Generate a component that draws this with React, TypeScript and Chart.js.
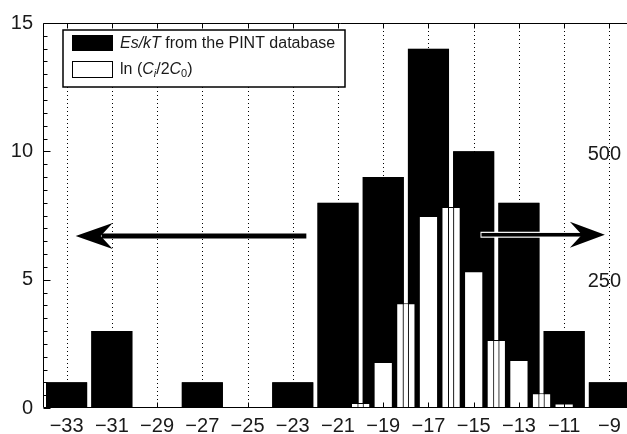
import React, { useEffect, useRef } from 'react';
import { Chart, registerables } from 'chart.js';

Chart.register(...registerables);

// ---- data ----
const xTickValues = [-33, -31, -29, -27, -25, -23, -21, -19, -17, -15, -13, -11, -9];
const esCenters = [-33, -31, -29, -27, -25, -23, -21, -19, -17, -15, -13, -11, -9];
const esValues = [1, 3, 0, 1, 0, 1, 8, 9, 14, 10, 8, 3, 1];
const lnCenters = [-20, -19, -18, -17, -16, -15, -14, -13, -12, -11];
const lnCounts = [10, 91, 207, 379, 397, 270, 134, 95, 29, 9];
const leftTickValues = [0, 5, 10, 15];
const rightTickValues = [250, 500];
// arrows: [shaft start x, tip x, y]
const leftArrow = [-22.4, -32.6, 6.7];
const rightArrow = [-14.7, -9.2, 6.75];

const legendEs = [
  { t: 'Es/kT', i: true },
  { t: ' from the PINT database' },
];
const legendLn = [
  { t: 'ln (' },
  { t: 'C', i: true },
  { t: 'i', i: true, sub: true },
  { t: '/2' },
  { t: 'C', i: true },
  { t: '0', sub: true },
  { t: ')' },
];

const FAMILY = '"Liberation Sans", Arial, Helvetica, sans-serif';
const TXT = '#1a1a1a';

const fmtMinus = (v: number) => (v < 0 ? '\u2212' + Math.abs(v) : String(v));

function drawRich(ctx: CanvasRenderingContext2D, segs: any[], x: number, y: number) {
  let cx = x;
  for (const s of segs) {
    const size = s.sub ? 11 : 16;
    ctx.font = `${s.i ? 'italic ' : ''}${size}px ${FAMILY}`;
    ctx.fillText(s.t, cx, s.sub ? y + 4 : y);
    cx += ctx.measureText(s.t).width;
  }
}

function arrowHead(ctx: CanvasRenderingContext2D, tipX: number, y: number, dir: number, len: number, half: number, notch: number) {
  ctx.beginPath();
  ctx.moveTo(tipX, y);
  ctx.lineTo(tipX - dir * len, y - half);
  ctx.lineTo(tipX - dir * notch, y);
  ctx.lineTo(tipX - dir * len, y + half);
  ctx.closePath();
  ctx.fill();
}

const decorPlugin = {
  id: 'decor',
  beforeDatasetsDraw(chart: any) {
    const { ctx, chartArea, scales } = chart;
    const { top, bottom } = chartArea;
    ctx.save();
    ctx.strokeStyle = '#000';
    ctx.lineWidth = 1;
    ctx.setLineDash([1, 3]);
    xTickValues.forEach((v) => {
      const px = Math.round(scales.x.getPixelForValue(v)) + 0.5;
      ctx.beginPath();
      ctx.moveTo(px, top);
      ctx.lineTo(px, bottom);
      ctx.stroke();
    });
    ctx.restore();
  },
  afterDatasetsDraw(chart: any) {
    const { ctx, chartArea, scales } = chart;
    const { left, right, top, bottom } = chartArea;
    const x = scales.x;
    const y = scales.y;
    ctx.save();
    // frame
    ctx.strokeStyle = '#000';
    ctx.lineWidth = 1;
    const L = Math.round(left) - 0.5;
    const T = Math.round(top) + 0.5;
    const B = Math.round(bottom) - 0.5;
    ctx.beginPath();
    ctx.moveTo(right + 5, T);
    ctx.lineTo(L, T);
    ctx.lineTo(L, B);
    ctx.lineTo(right + 5, B);
    ctx.stroke();
    // top / bottom ticks
    ctx.beginPath();
    xTickValues.forEach((v) => {
      const px = Math.round(x.getPixelForValue(v)) + 0.5;
      ctx.moveTo(px, T);
      ctx.lineTo(px, T + 5);
      ctx.moveTo(px, B);
      ctx.lineTo(px, B - 5);
    });
    // left ticks (minor every 0.5, major at labelled values)
    for (let k = 0; k <= 30; k++) {
      const v = k * 0.5;
      const py = Math.round(y.getPixelForValue(v)) + 0.5;
      const len = leftTickValues.includes(v) ? 7 : 4;
      ctx.moveTo(L, py);
      ctx.lineTo(L + len, py);
    }
    ctx.stroke();

    // left arrow
    ctx.fillStyle = '#000';
    ctx.strokeStyle = '#000';
    {
      const sx = x.getPixelForValue(leftArrow[0]);
      const tx = x.getPixelForValue(leftArrow[1]);
      const py = y.getPixelForValue(leftArrow[2]);
      ctx.lineWidth = 5;
      ctx.beginPath();
      ctx.moveTo(sx, py);
      ctx.lineTo(tx + 26, py);
      ctx.stroke();
      arrowHead(ctx, tx, py, -1, 37, 13, 25);
    }
    // right arrow (black core with white outline)
    {
      const sx = x.getPixelForValue(rightArrow[0]);
      const tx = x.getPixelForValue(rightArrow[1]);
      const py = y.getPixelForValue(rightArrow[2]);
      const ex = tx - 22;
      ctx.fillStyle = '#fff';
      ctx.fillRect(sx, py - 3, ex - sx, 6);
      ctx.fillStyle = '#000';
      ctx.fillRect(sx + 1, py - 1.8, ex - sx, 3.6);
      arrowHead(ctx, tx, py, 1, 35, 13, 23);
    }

    // legend
    const lx = left + 19;
    const ly = top + 7;
    ctx.fillStyle = '#fff';
    ctx.fillRect(lx, ly, 282, 57);
    ctx.lineWidth = 1.5;
    ctx.strokeStyle = '#000';
    ctx.strokeRect(lx, ly, 282, 57);
    ctx.fillStyle = '#000';
    ctx.fillRect(lx + 9, ly + 5, 41, 16);
    ctx.lineWidth = 1;
    ctx.strokeRect(Math.round(lx + 9) + 0.5, Math.round(ly + 31) + 0.5, 40, 16);
    ctx.fillStyle = TXT;
    ctx.textBaseline = 'middle';
    ctx.textAlign = 'left';
    drawRich(ctx, legendEs, lx + 57, ly + 14);
    drawRich(ctx, legendLn, lx + 57, ly + 40);
    ctx.restore();
  },
};

export default function App() {
  const ref = useRef<HTMLCanvasElement>(null);
  useEffect(() => {
    const tickFont = { family: FAMILY, size: 20 };
    const chart = new Chart(ref.current as HTMLCanvasElement, {
      type: 'bar',
      data: {
        datasets: [
          {
            label: 'Es/kT from the PINT database',
            data: esCenters.map((c, i) => ({ x: c, y: esValues[i] })),
            xAxisID: 'x',
            yAxisID: 'y',
            backgroundColor: '#000',
            borderWidth: 0,
            barPercentage: 0.91,
            categoryPercentage: 1,
            grouped: false,
            order: 3,
          },
          {
            label: 'ln (Ci/2C0)',
            data: lnCenters.map((c, i) => ({ x: c, y: lnCounts[i] })),
            xAxisID: 'x2',
            yAxisID: 'y2',
            backgroundColor: '#fff',
            borderColor: '#000',
            borderWidth: 1,
            barPercentage: 0.85,
            categoryPercentage: 1,
            grouped: false,
            order: 2,
          },
          {
            label: 'outline',
            data: esCenters.map((c, i) => ({ x: c, y: esValues[i] })),
            xAxisID: 'x',
            yAxisID: 'y',
            backgroundColor: 'rgba(0,0,0,0)',
            borderColor: '#000',
            borderWidth: 1,
            barPercentage: 0.91,
            categoryPercentage: 1,
            grouped: false,
            order: 1,
          },
        ] as any,
      },
      options: {
        responsive: false,
        animation: false,
        devicePixelRatio: 1,
        layout: { padding: { top: 20, left: 0, right: 0, bottom: 0 } },
        plugins: { legend: { display: false }, tooltip: { enabled: false } },
        scales: {
          x: {
            type: 'linear',
            position: 'bottom',
            offset: false,
            min: -34,
            max: -8,
            afterBuildTicks: (s: any) => {
              s.ticks = xTickValues.map((v) => ({ value: v }));
            },
            afterFit: (s: any) => {
              s.height = 26;
            },
            ticks: {
              callback: (v: any) => fmtMinus(Number(v)),
              font: tickFont,
              color: TXT,
              padding: 6,
              maxRotation: 0,
              autoSkip: false,
            },
            grid: { display: false, drawTicks: false, offset: false },
            border: { display: false },
          },
          x2: {
            type: 'linear',
            position: 'bottom',
            display: false,
            offset: false,
            min: -34,
            max: -8,
            ticks: { stepSize: 1 },
            grid: { offset: false },
          },
          y: {
            position: 'left',
            min: 0,
            max: 15,
            afterBuildTicks: (s: any) => {
              s.ticks = leftTickValues.map((v) => ({ value: v }));
            },
            afterFit: (s: any) => {
              s.width = 44;
            },
            ticks: { font: tickFont, color: TXT, padding: 11 },
            grid: { display: false, drawTicks: false },
            border: { display: false },
          },
          y2: {
            position: 'right',
            min: 0,
            max: 760,
            afterBuildTicks: (s: any) => {
              s.ticks = rightTickValues.map((v) => ({ value: v }));
            },
            afterFit: (s: any) => {
              s.width = 8;
            },
            ticks: { font: tickFont, color: TXT, mirror: true, padding: -11 },
            grid: { display: false, drawTicks: false },
            border: { display: false },
          },
        },
      } as any,
      plugins: [decorPlugin],
    });
    return () => chart.destroy();
  }, []);
  return (
    <div
      style={{
        position: 'absolute',
        left: 0,
        top: 0,
        width: 627,
        height: 434,
        overflow: 'hidden',
        background: '#fff',
      }}
    >
      <canvas ref={ref} width={640} height={434} style={{ display: 'block', width: 640, height: 434 }} />
    </div>
  );
}
